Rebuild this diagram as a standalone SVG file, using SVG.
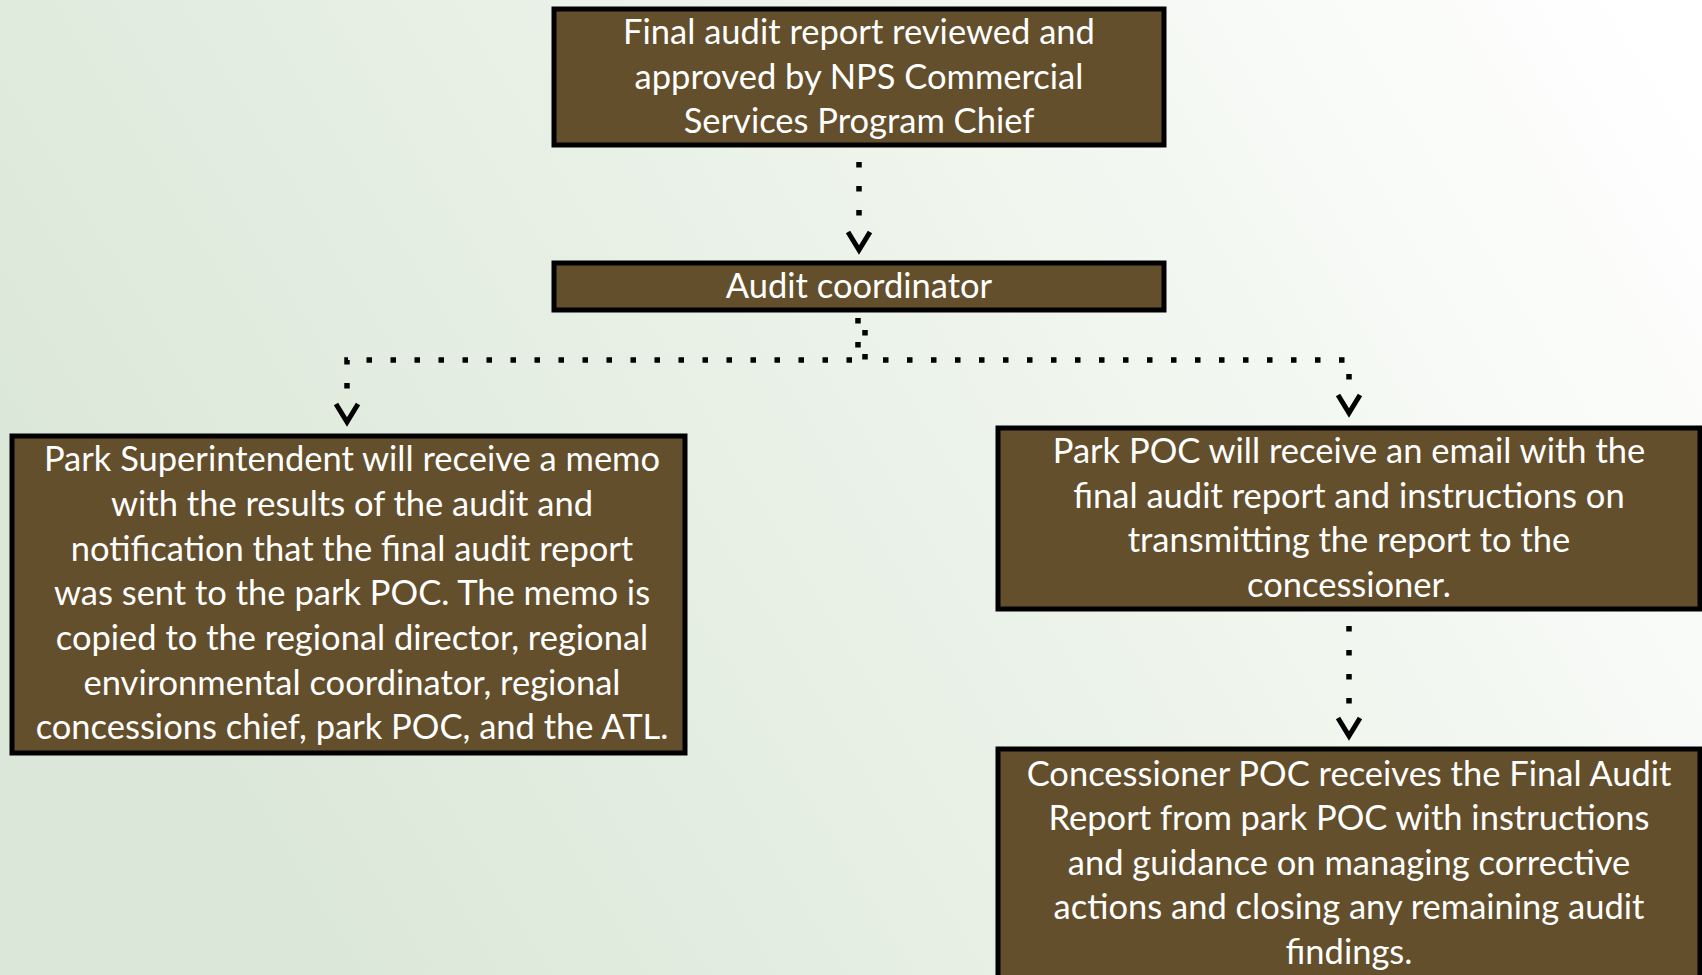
<svg xmlns="http://www.w3.org/2000/svg" width="1702" height="975" viewBox="0 0 1702 975">
  <defs>
    <linearGradient id="bg" x1="0" y1="0.45" x2="1" y2="0.1">
      <stop offset="0" stop-color="#dbe7d8"/>
      <stop offset="0.55" stop-color="#eef4ec"/>
      <stop offset="1" stop-color="#ffffff"/>
    </linearGradient>
    <style>
      .box { fill: #644f2c; stroke: #000; stroke-width: 5; }
      .txt { font-family: Lato, "Open Sans", "Liberation Sans", sans-serif; font-size: 34.5px; fill: #ffffff; text-anchor: middle; }
      .dot { fill: none; stroke: #000; stroke-width: 5.5; stroke-dasharray: 5.5 18.5; }
      .head { fill: none; stroke: #000; stroke-width: 5; stroke-linejoin: miter; }
    </style>
  </defs>

  <rect x="0" y="0" width="1702" height="975" fill="url(#bg)"/>

  <!-- connectors -->
  <g id="connectors">
    <path class="dot" d="M859,162 L859,225"/>
    <path class="head" d="M848,232 L859,250 L870,232"/>

    <path class="dot" d="M858,318 L858,360 L347,360 L347,396"/>
    <path class="head" d="M336,404 L347,422 L358,404"/>

    <path class="dot" style="stroke-dashoffset:12" d="M865,318 L865,360 L1349,360 L1349,388"/>
    <path class="head" d="M1338,395 L1349,413 L1360,395"/>

    <path class="dot" d="M1349,626 L1349,712"/>
    <path class="head" d="M1338,718 L1349,736 L1360,718"/>
  </g>

  <!-- approval step -->
  <g id="node-approval">
    <rect class="box" x="554" y="9" width="610" height="136"/>
    <text class="txt" x="859" y="44">Final audit report reviewed and</text>
    <text class="txt" x="859" y="89">approved by NPS Commercial</text>
    <text class="txt" x="859" y="133">Services Program Chief</text>
  </g>

  <!-- coordinator -->
  <g id="node-coordinator">
    <rect class="box" x="554" y="263" width="610" height="47"/>
    <text class="txt" x="859" y="298">Audit coordinator</text>
  </g>

  <!-- superintendent memo -->
  <g id="node-superintendent">
    <rect class="box" x="12" y="436" width="673" height="317"/>
    <text class="txt" x="352" y="471">Park Superintendent will receive a memo</text>
    <text class="txt" x="352" y="516">with the results of the audit and</text>
    <text class="txt" x="352" y="561">notification that the final audit report</text>
    <text class="txt" x="352" y="605">was sent to the park POC. The memo is</text>
    <text class="txt" x="352" y="650">copied to the regional director, regional</text>
    <text class="txt" x="352" y="695">environmental coordinator, regional</text>
    <text class="txt" x="352" y="739">concessions chief, park POC, and the ATL.</text>
  </g>

  <!-- park POC email -->
  <g id="node-park-poc">
    <rect class="box" x="998" y="428" width="702" height="181"/>
    <text class="txt" x="1349" y="463">Park POC will receive an email with the</text>
    <text class="txt" x="1349" y="508">final audit report and instructions on</text>
    <text class="txt" x="1349" y="552">transmitting the report to the</text>
    <text class="txt" x="1349" y="597">concessioner.</text>
  </g>

  <!-- concessioner POC -->
  <g id="node-concessioner">
    <rect class="box" x="998" y="749" width="702" height="240"/>
    <text class="txt" x="1349" y="786">Concessioner POC receives the Final Audit</text>
    <text class="txt" x="1349" y="830">Report from park POC with instructions</text>
    <text class="txt" x="1349" y="875">and guidance on managing corrective</text>
    <text class="txt" x="1349" y="919">actions and closing any remaining audit</text>
    <text class="txt" x="1349" y="964">findings.</text>
  </g>
</svg>
